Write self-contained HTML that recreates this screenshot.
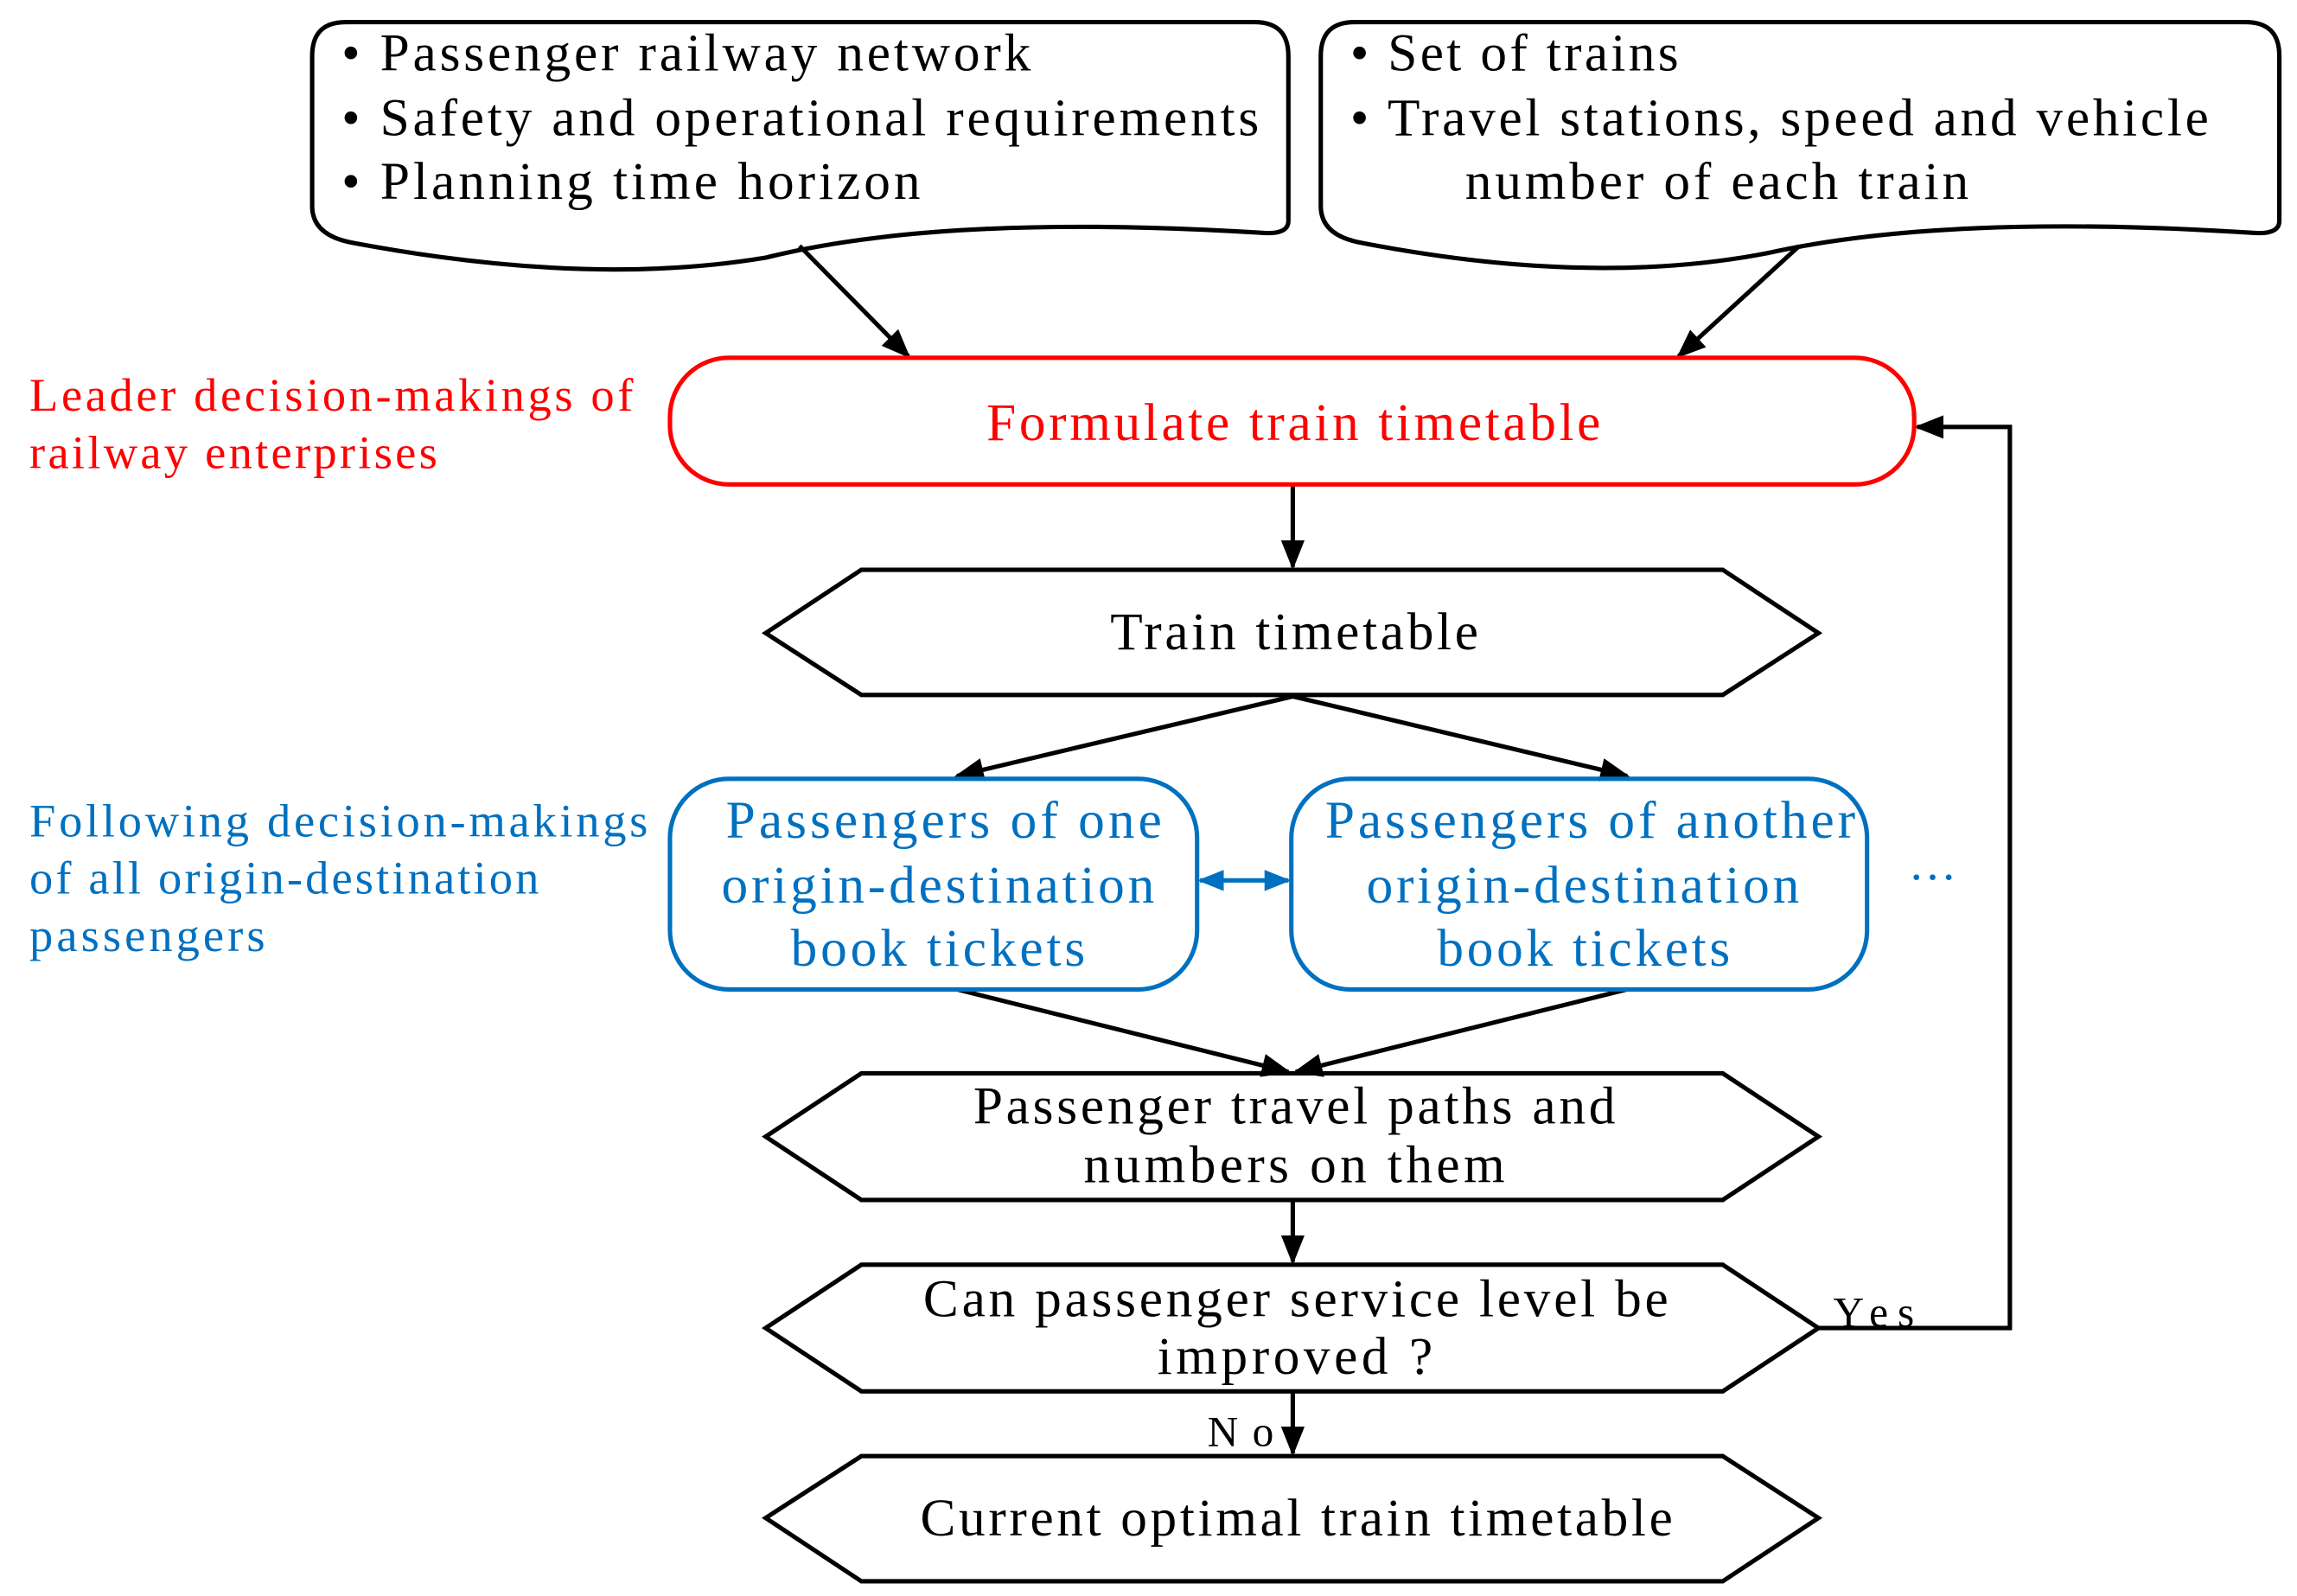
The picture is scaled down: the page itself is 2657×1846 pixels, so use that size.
<!DOCTYPE html>
<html><head><meta charset="utf-8"><style>
html,body{margin:0;padding:0;background:#fff;}
svg{display:block;}
text{font-family:"Liberation Serif",serif;}
</style></head><body>
<svg width="2657" height="1846" viewBox="0 0 1560 1084" preserveAspectRatio="none" xmlns="http://www.w3.org/2000/svg">
<defs>
<marker id="a" viewBox="0 0 10 10" refX="9" refY="5" markerWidth="20" markerHeight="20" orient="auto" markerUnits="userSpaceOnUse"><path d="M0,1 L10,5 L0,9 Z" fill="#000"/></marker>
<marker id="b" viewBox="0 0 10 10" refX="9" refY="5" markerWidth="18" markerHeight="18" orient="auto-start-reverse" markerUnits="userSpaceOnUse"><path d="M0,1 L10,5 L0,9 Z" fill="#0070c0"/></marker>
</defs>
<g fill="none" stroke="#000" stroke-width="3">
<path d="M235,15 H852 Q875,15 875,38 V150 Q875,160 855,158 Q640,145 520,175 Q400,195 240,165 Q212,160 212,140 V38 Q212,15 235,15 Z"/>
<path d="M920,15 H1525 Q1548,15 1548,38 V150 Q1548,160 1528,158 Q1320,145 1200,172 Q1080,195 925,165 Q897,160 897,140 V38 Q897,15 920,15 Z"/>
<line x1="543" y1="167" x2="617" y2="242" marker-end="url(#a)"/>
<line x1="1222" y1="167" x2="1140" y2="242" marker-end="url(#a)"/>
<line x1="878" y1="329" x2="878" y2="385" marker-end="url(#a)"/>
<polygon points="520,430 585,387 1170,387 1235,430 1170,472 585,472"/>
<line x1="878" y1="473" x2="650" y2="527" marker-end="url(#a)"/>
<line x1="878" y1="473" x2="1105" y2="527" marker-end="url(#a)"/>
<line x1="650" y1="672" x2="875" y2="728" marker-end="url(#a)"/>
<line x1="1105" y1="672" x2="880" y2="728" marker-end="url(#a)"/>
<polygon points="520,772 585,729 1170,729 1235,772 1170,815 585,815"/>
<line x1="878" y1="815" x2="878" y2="857" marker-end="url(#a)"/>
<polygon points="520,902 585,859 1170,859 1235,902 1170,945 585,945"/>
<polyline points="1235,902 1365,902 1365,290 1302,290" marker-end="url(#a)"/>
<line x1="878" y1="945" x2="878" y2="987" marker-end="url(#a)"/>
<polygon points="520,1031 585,989 1170,989 1235,1031 1170,1074 585,1074"/>
</g>
<rect x="455" y="243" width="845" height="86" rx="40" fill="none" stroke="#ff0000" stroke-width="3"/>
<rect x="455" y="529" width="358" height="143" rx="40" fill="none" stroke="#0070c0" stroke-width="3"/>
<rect x="877" y="529" width="391" height="143" rx="40" fill="none" stroke="#0070c0" stroke-width="3"/>
<line x1="815" y1="598" x2="875" y2="598" stroke="#0070c0" stroke-width="3" marker-start="url(#b)" marker-end="url(#b)"/>
<g font-size="36" fill="#000">
<text x="232" y="48" textLength="468">• Passenger railway network</text>
<text x="232" y="92" textLength="623">• Safety and operational requirements</text>
<text x="232" y="135" textLength="393">• Planning time horizon</text>
<text x="917" y="48" textLength="223">• Set of trains</text>
<text x="917" y="92" textLength="583">• Travel stations, speed and vehicle</text>
<text x="995" y="135" textLength="342">number of each train</text>
<text x="754" y="441" textLength="250">Train timetable</text>
<text x="661" y="763" textLength="436">Passenger travel paths and</text>
<text x="736" y="803" textLength="286">numbers on them</text>
<text x="627" y="894" textLength="506">Can passenger service level be</text>
<text x="786" y="933" textLength="187">improved ?</text>
<text x="625" y="1043" textLength="511">Current optimal train timetable</text>
</g>
<text x="1245" y="901" font-size="29" textLength="55">Yes</text>
<text x="820" y="982" font-size="29" textLength="45">No</text>
<text x="670" y="299" font-size="36" fill="#ff0000" textLength="417">Formulate train timetable</text>
<text x="20" y="279" font-size="32" fill="#ff0000" textLength="410">Leader decision-makings of</text>
<text x="20" y="318" font-size="32" fill="#ff0000" textLength="277">railway enterprises</text>
<g font-size="36" fill="#0070c0">
<text x="493" y="569" textLength="296">Passengers of one</text>
<text x="490" y="613" textLength="294">origin-destination</text>
<text x="537" y="656" textLength="200">book tickets</text>
<text x="900" y="569" textLength="360">Passengers of another</text>
<text x="928" y="613" textLength="294">origin-destination</text>
<text x="976" y="656" textLength="199">book tickets</text>
</g>
<text x="1296" y="607" font-size="33" fill="#0070c0">···</text>
<g font-size="32" fill="#0070c0">
<text x="20" y="568" textLength="420">Following decision-makings</text>
<text x="20" y="607" textLength="346">of all origin-destination</text>
<text x="20" y="646" textLength="160">passengers</text>
</g>
</svg>
</body></html>
